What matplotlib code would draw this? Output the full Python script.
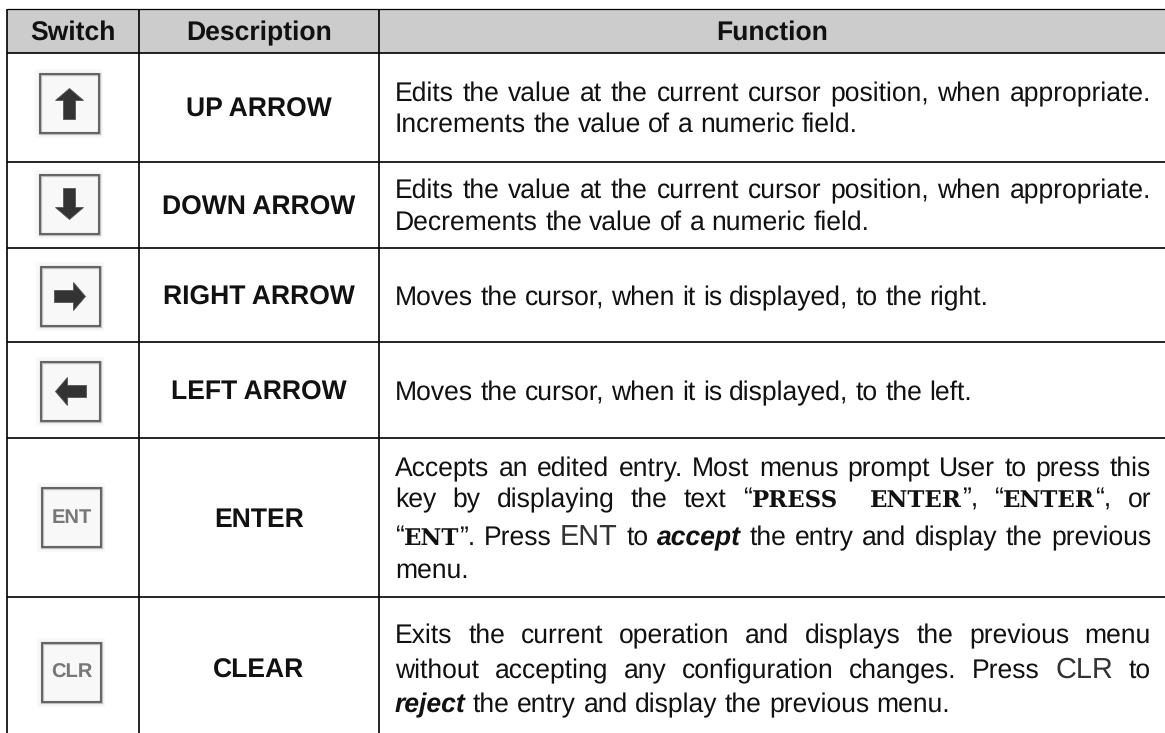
import re
import matplotlib
matplotlib.use("Agg")
import matplotlib.pyplot as plt
from matplotlib.patches import Polygon, Rectangle
import numpy as np

plt.rcParams["text.hinting"] = "no_hinting"

# isi tabel
headers = ["Switch", "Description", "Function"]
names = ["UP ARROW", "DOWN ARROW", "RIGHT ARROW", "LEFT ARROW", "ENTER", "CLEAR"]
icons = ["up", "down", "right", "left", "ENT", "CLR"]
# `x` = slab bold, *x* = bold italic, ~x~ = tipis
functions = [
    ["Edits the value at the current cursor position, when appropriate.",
     "Increments the value of a numeric field."],
    ["Edits the value at the current cursor position, when appropriate.",
     "Decrements the value of a numeric field."],
    ["Moves the cursor, when it is displayed, to the right."],
    ["Moves the cursor, when it is displayed, to the left."],
    ["Accepts an edited entry. Most menus prompt User to press this",
     "key by displaying the text “`PRESS`  `ENTER`”, “`ENTER`“, or",
     "“`ENT`”. Press ~ENT~ to *accept* the entry and display the previous",
     "menu."],
    ["Exits the current operation and displays the previous menu",
     "without accepting any configuration changes. Press ~CLR~ to",
     "*reject* the entry and display the previous menu."],
]

# layout dalam piksel
W, H = 1165, 733
col_x = [7.3, 138.7, 379]
row_y = [8.5, 53.3, 161.7, 247.5, 341.7, 437.7, 596.7]
name_base = [117, 215, 305, 400, 527, 678]
icon_box = [(40, 74), (40, 175), (41, 267), (41, 362), (42, 488), (42, 643)]
text_base = [[101, 132], [198, 230], [305], [400], [476, 507, 545, 578], [643, 678, 712]]
text_left, text_right = 395, 1151
BOX = 59
FS = 19.1

STYLES = {
    "n": dict(family="Liberation Sans", color="#111111"),
    "m": dict(family="DejaVu Serif", weight="bold", color="#111111", size=16.5),
    "b": dict(family="Liberation Sans", weight="bold", style="italic", color="#111111"),
    "l": dict(family="Liberation Sans", color="#333333", size=20.8),
}

fig = plt.figure(figsize=(W / 100, H / 100), dpi=100)
ax = fig.add_axes([0, 0, 1, 1])
ax.set_xlim(0, W)
ax.set_ylim(H, 0)
ax.axis("off")
renderer = fig.canvas.get_renderer()


def parse_word(word):
    runs = []
    for part in re.split(r"(`[^`]*`|\*[^*]*\*|~[^~]*~)", word):
        if not part:
            continue
        if part[0] == "`":
            runs.append((part[1:-1], "m"))
        elif part[0] == "*":
            runs.append((part[1:-1], "b"))
        elif part[0] == "~":
            runs.append((part[1:-1], "l"))
        else:
            runs.append((part, "n"))
    return runs


def run_width(txt, key):
    kw = {"size": FS, **STYLES[key]}
    t = ax.text(0, 0, txt, **kw)
    w = t.get_window_extent(renderer).width
    t.remove()
    return w


def draw_line(line, y, justify):
    words = [parse_word(w) for w in line.split(" ")]
    widths = [sum(run_width(t, k) for t, k in w) for w in words]
    space = run_width("a a", "n") - 2 * run_width("a", "n")
    if justify:
        space = (text_right - text_left - sum(widths)) / (len(words) - 1)
    x = text_left
    for word, w in zip(words, widths):
        cx = x
        for txt, key in word:
            kw = {"size": FS, **STYLES[key]}
            ax.text(cx, y, txt, ha="left", va="baseline", **kw)
            cx += run_width(txt, key)
        x += w + space


def draw_icon(kind, x, y):
    # kotak latar yang agak abu-abu lalu bingkai tombol
    ax.add_patch(Rectangle((x - 5, y - 5), BOX + 9, BOX + 10, fc="#f8f8f8", ec="none"))
    ax.add_patch(Rectangle((x, y), BOX, BOX, fc="none", ec="#777777", lw=2.4, alpha=0.45))
    ax.add_patch(Rectangle((x, y), BOX, BOX, fc="none", ec="#555555", lw=1.2))
    cx, cy = x + BOX / 2, y + BOX / 2
    if kind in ("up", "down", "right", "left"):
        shape = np.array([[0, -15], [14, -3], [6, -3], [6, 16], [-6, 16], [-6, -3], [-14, -3]], float)
        ang = {"up": 0, "down": np.pi, "right": np.pi / 2, "left": -np.pi / 2}[kind]
        rot = np.array([[np.cos(ang), -np.sin(ang)], [np.sin(ang), np.cos(ang)]])
        pts = shape @ rot.T + [cx, cy]
        ax.add_patch(Polygon(pts, closed=True, fc="#333333", ec="#555555", lw=0.6))
    else:
        ax.text(cx, cy, kind, ha="center", va="center", family="Liberation Sans",
                weight="bold", size=14.5, color="#777777")


# latar header
ax.add_patch(Rectangle((col_x[0], row_y[0]), W - col_x[0], row_y[1] - row_y[0], fc="#cccccc", ec="none"))

# garis tabel
for i, y in enumerate(row_y):
    ax.plot([col_x[0] - 0.8, W], [y, y], color="black", lw=0.9 if i == 0 else 1.2, solid_capstyle="butt")
for x in col_x:
    ax.plot([x, x], [row_y[0], H], color="black", lw=1.2, solid_capstyle="butt")

# header
edges = col_x + [W]
for i, h in enumerate(headers):
    ax.text((edges[i] + edges[i + 1]) / 2, 40, h, ha="center", va="baseline",
            family="Liberation Sans", weight="bold", size=FS, color="#111111")

# baris
for i, name in enumerate(names):
    draw_icon(icons[i], *icon_box[i])
    ax.text((col_x[1] + col_x[2]) / 2, name_base[i], name, ha="center", va="baseline",
            family="Liberation Sans", weight="bold", size=FS, color="#111111")
    lines = functions[i]
    for j, line in enumerate(lines):
        # baris terakhir paragraf tidak dirata-kanan-kirikan
        draw_line(line, text_base[i][j], j < len(lines) - 1)

fig.savefig("out.png", dpi=100)
